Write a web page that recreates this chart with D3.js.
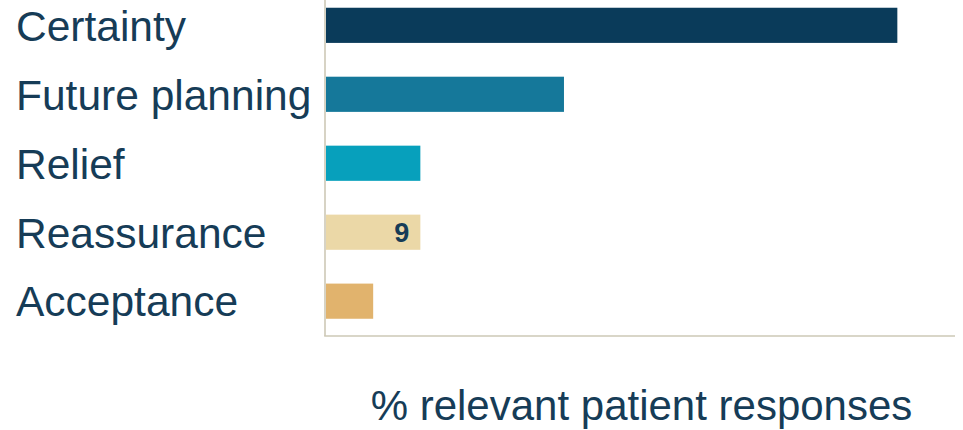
<!DOCTYPE html>
<html>
<head>
<meta charset="utf-8">
<script src="https://cdn.jsdelivr.net/npm/d3@7"></script>
<style>
  html, body { margin: 0; padding: 0; background: #ffffff; }
  svg { display: block; }
  text { font-family: "Liberation Sans", Arial, Helvetica, sans-serif; }
</style>
</head>
<body>
<svg id="chart" width="963" height="430"></svg>
<script>
// Responses by theme, share of relevant patient responses (%)
const categories = ["Certainty", "Future planning", "Relief", "Reassurance", "Acceptance"];
const values = [54.5, 22.7, 9, 9, 4.5];
const barColors = ["#0a3b5a", "#15789a", "#07a0bc", "#ebd8a7", "#e1b36d"];
// Only the Reassurance bar carries a value label
const labelled = ["Reassurance"];
const axisTitle = "% relevant patient responses";

const W = 963, H = 430;
const textColor = "#163c57";
const axisColor = "#cdc8b6";

const svg = d3.select("#chart");

const x = d3.scaleLinear().domain([0, 60]).range([326, 955]);
const y = d3.scaleBand()
  .domain(categories)
  .range([-9.5, 336])
  .paddingInner(0.49)
  .paddingOuter(0.25);

const rows = categories.map((c, i) => ({ cat: c, value: values[i], color: barColors[i] }));

// bars
svg.append("g")
  .selectAll("rect")
  .data(rows)
  .join("rect")
  .attr("x", x(0))
  .attr("y", d => y(d.cat))
  .attr("width", d => x(d.value) - x(0))
  .attr("height", y.bandwidth())
  .attr("fill", d => d.color);

// axis lines: vertical baseline and bottom rule
const axisY = 336;
svg.append("line")
  .attr("x1", x(0) - 1).attr("x2", x(0) - 1)
  .attr("y1", 0).attr("y2", axisY)
  .attr("stroke", axisColor).attr("stroke-width", 1.6);
svg.append("line")
  .attr("x1", x(0) - 1.8).attr("x2", x.range()[1])
  .attr("y1", axisY).attr("y2", axisY)
  .attr("stroke", axisColor).attr("stroke-width", 1.6);

// category labels, left aligned
svg.append("g")
  .selectAll("text")
  .data(rows)
  .join("text")
  .attr("x", 16)
  .attr("y", d => y(d.cat) + y.bandwidth() / 2)
  .attr("dy", "0.36em")
  .attr("font-size", 42.5)
  .attr("fill", textColor)
  .text(d => d.cat);

// value label inside the bar end
svg.append("g")
  .selectAll("text")
  .data(rows.filter(d => labelled.includes(d.cat)))
  .join("text")
  .attr("x", d => x(d.value) - 11)
  .attr("y", d => y(d.cat) + y.bandwidth() / 2)
  .attr("dy", "0.36em")
  .attr("text-anchor", "end")
  .attr("font-size", 27)
  .attr("font-weight", "bold")
  .attr("fill", textColor)
  .text(d => d3.format("d")(d.value));

// axis title, kept just inside the bottom edge
svg.append("text")
  .attr("x", (x.range()[0] + x.range()[1]) / 2 + 1)
  .attr("y", 420)
  .attr("text-anchor", "middle")
  .attr("font-size", 42)
  .attr("fill", textColor)
  .text(axisTitle);
</script>
</body>
</html>
